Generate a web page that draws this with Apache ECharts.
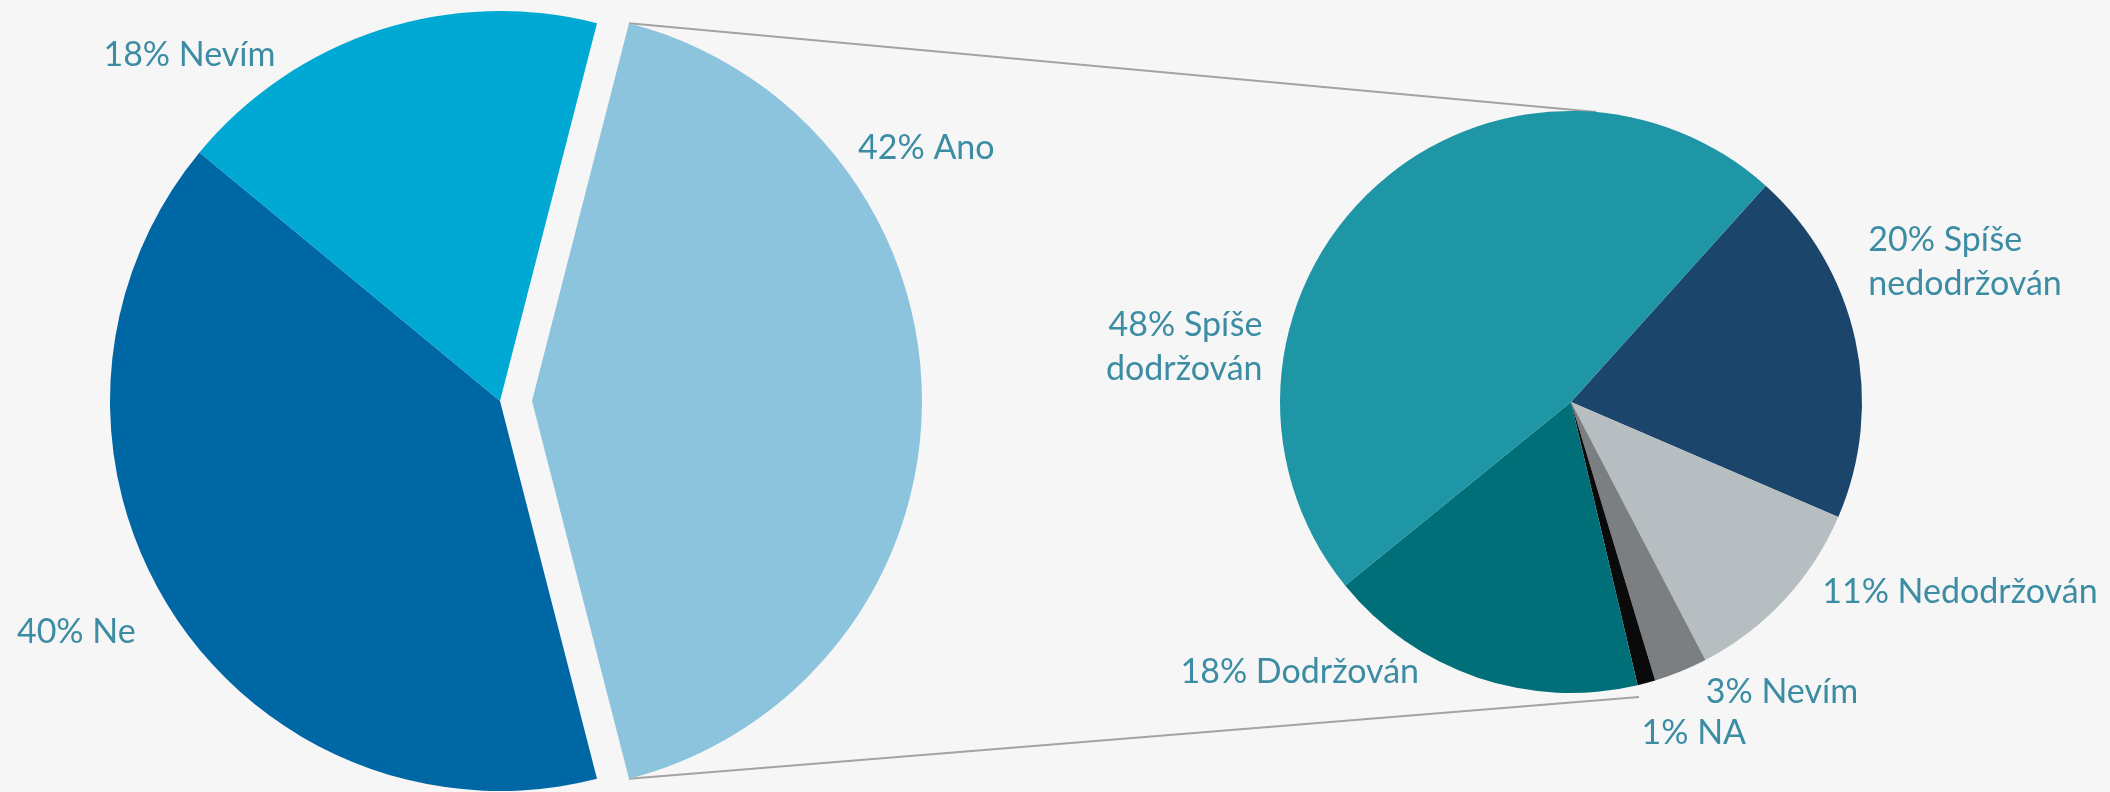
<!DOCTYPE html>
<html>
<head>
<meta charset="utf-8">
<script src="https://cdn.jsdelivr.net/npm/echarts@6/dist/echarts.min.js"></script>
<style>
  html, body { margin: 0; padding: 0; background: #f6f6f6; }
  #main { width: 2110px; height: 792px; }
</style>
</head>
<body>
<div id="main"></div>
<script>
// hlavní koláč
const mainLabels = ["Ano", "Ne", "Nevím"];
const mainValues = [42, 40, 18];
const mainColors = ["#8cc3dd", "#0067a5", "#00a9d4"];

// rozpad odpovědi "Ano"
const detailLabels = ["Spíše nedodržován", "Nedodržován", "Nevím", "NA", "Dodržován", "Spíše dodržován"];
const detailValues = [20, 11, 3, 1, 18, 48];
const detailColors = ["#1b456b", "#b6bec1", "#7b7f81", "#0a0a0a", "#006f78", "#1f96a5"];

// posun popisků od výchozí pozice
const mainNudge = [[-69, -253], [-30, 22], [-99, 25]];
const detailNudge = [[8, -78], [33, -8], [20, 21], [-10, 50], [-53, -5], [-103, 156]];

const myChart = echarts.init(document.getElementById("main"));

const leftC = [500, 401], leftR = 390, explode = 32;
const rightC = [1571, 402], rightR = 291;

const total = mainValues.reduce((a, b) => a + b, 0);
const anoStart = mainValues[0] / total * 180; // výseč Ano vycentrovaná doprava
const rad = Math.PI / 180;

const labelStyle = {
  show: true,
  position: "outside",
  color: "#3c8da3",
  fontFamily: "Lato",
  fontSize: 34,
  lineHeight: 44,
  formatter: (p) => p.value + "% " + p.name.replace(" ", "\n"),
};

const option = {
  backgroundColor: "#f6f6f6",
  animation: false,
  graphic: [
    {
      type: "line",
      z: 0,
      shape: {
        x1: leftC[0] + explode + leftR * Math.cos(anoStart * rad),
        y1: leftC[1] - leftR * Math.sin(anoStart * rad),
        x2: rightC[0] + rightR * Math.cos(85 * rad),
        y2: rightC[1] - rightR * Math.sin(85 * rad),
      },
      style: { stroke: "#a3a3a3", lineWidth: 2 },
    },
    {
      type: "line",
      z: 0,
      shape: {
        x1: leftC[0] + explode + leftR * Math.cos(anoStart * rad),
        y1: leftC[1] + leftR * Math.sin(anoStart * rad),
        x2: rightC[0] + rightR * 1.04 * Math.cos(-77 * rad),
        y2: rightC[1] - rightR * 1.04 * Math.sin(-77 * rad),
      },
      style: { stroke: "#a3a3a3", lineWidth: 2 },
    },
  ],
  series: [
    {
      type: "pie",
      center: leftC,
      radius: leftR,
      startAngle: anoStart,
      avoidLabelOverlap: false,
      selectedMode: "single",
      selectedOffset: explode,
      label: labelStyle,
      labelLine: { show: false, length: 0, length2: 0 },
      labelLayout: (p) => ({ dx: mainNudge[p.dataIndex][0], dy: mainNudge[p.dataIndex][1] }),
      emphasis: { disabled: true },
      itemStyle: { borderWidth: 0 },
      data: mainLabels.map((name, i) => ({
        name: name,
        value: mainValues[i],
        selected: i === 0,
        itemStyle: { color: mainColors[i] },
      })),
    },
    {
      type: "pie",
      center: rightC,
      radius: rightR,
      startAngle: 48,
      avoidLabelOverlap: false,
      label: labelStyle,
      labelLine: { show: false, length: 0, length2: 0 },
      labelLayout: (p) => ({ dx: detailNudge[p.dataIndex][0], dy: detailNudge[p.dataIndex][1] }),
      emphasis: { disabled: true },
      itemStyle: { borderWidth: 0 },
      data: detailLabels.map((name, i) => ({
        name: name,
        value: detailValues[i],
        itemStyle: { color: detailColors[i] },
      })),
    },
  ],
};

myChart.setOption(option);
</script>
</body>
</html>
